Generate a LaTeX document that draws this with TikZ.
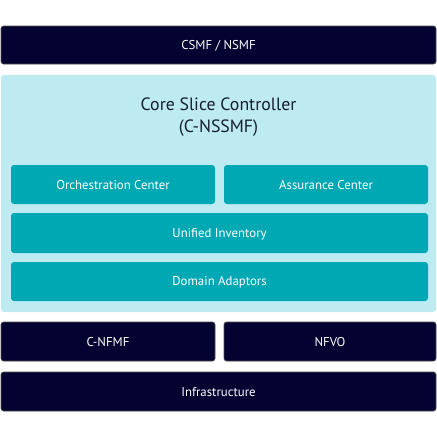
\documentclass[tikz,border=0pt]{standalone}
\usepackage{fontspec}
\setmainfont{PT Sans}
\definecolor{navy}{RGB}{4,2,48}
\definecolor{lightbg}{RGB}{190,235,242}
\definecolor{tealbox}{RGB}{0,168,180}
\definecolor{titletext}{RGB}{20,30,50}
\begin{document}
\begin{tikzpicture}[x=1pt,y=-1pt,
  darkbox/.style={fill=navy,draw=black!70,line width=0.6pt,rounded corners=2.5pt},
  tealblk/.style={fill=tealbox,rounded corners=3pt},
  panel/.style={fill=lightbg,rounded corners=3pt},
  lbl/.style={text=white,font=\fontsize{12.8}{15}\selectfont}]
\useasboundingbox (0,0) rectangle (437,437);
\filldraw[darkbox] (1,26) rectangle (436,64);
\node[lbl] (csmf) at (218.5,46) {CSMF / NSMF};
\fill[panel] (1,75) rectangle (436,312);
\node[text=titletext,font=\fontsize{17.8}{21.5}\selectfont,align=center] (csc) at (218.5,117) {Core Slice Controller\\(C-NSSMF)};
\fill[tealblk] (11,165) rectangle (215,204);
\node[lbl] (orch) at (113,185.5) {Orchestration Center};
\fill[tealblk] (224,165) rectangle (428,204);
\node[lbl] (assur) at (326,185.5) {Assurance Center};
\fill[tealblk] (11,213) rectangle (428,253);
\node[lbl] (inv) at (219.5,234) {Unified Inventory};
\fill[tealblk] (11,262) rectangle (428,301);
\node[lbl] (dom) at (219.5,282.5) {Domain Adaptors};
\filldraw[darkbox] (1,322) rectangle (215,361);
\node[lbl] (cnfmf) at (108,342.5) {C-NFMF};
\filldraw[darkbox] (224,322) rectangle (436,361);
\node[lbl] (nfvo) at (330,342.5) {NFVO};
\filldraw[darkbox] (1,372) rectangle (436,411);
\node[lbl] (infra) at (218.5,392.5) {Infrastructure};
\end{tikzpicture}
\end{document}
